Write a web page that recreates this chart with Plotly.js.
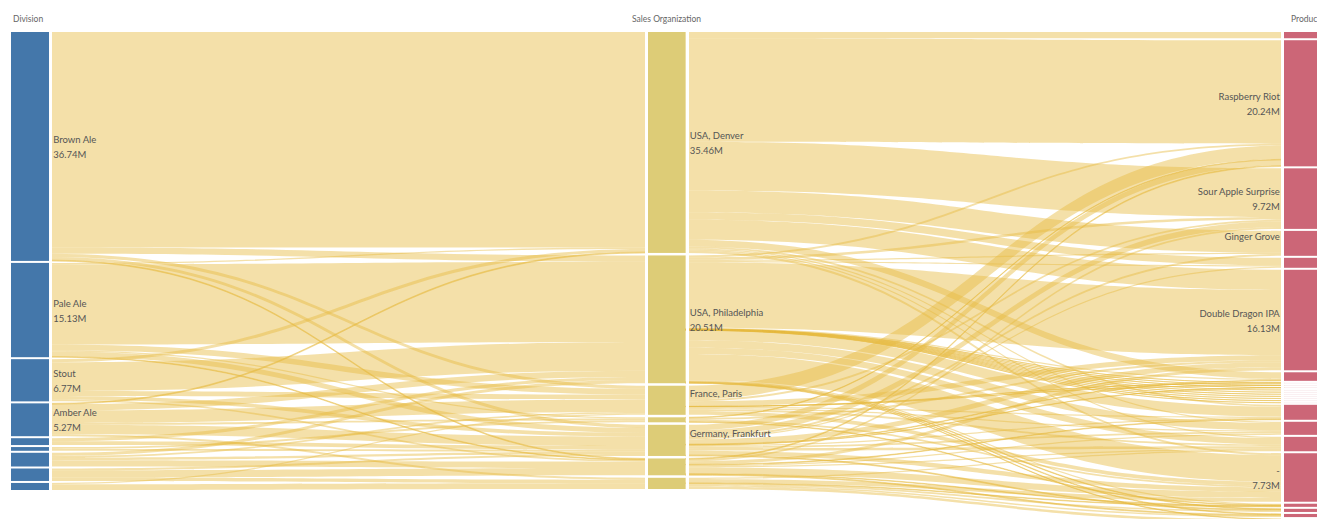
<!DOCTYPE html>
<html><head><meta charset="utf-8">
<script src="https://cdn.plot.ly/plotly-3.0.1.min.js"></script>
<style>html,body{margin:0;padding:0;overflow:hidden;background:#fff}#chart{width:1335px;height:523px}</style>
</head><body><div id="chart"></div>
<script>
// ---- column titles ----
const columnTitles = ["Division", "Sales Organization", "Product"];

// ---- nodes (empty name = unlabeled small node) ----
const divisionNames  = ["Brown Ale", "Pale Ale", "Stout", "Amber Ale", "", "", "", "", ""];
const divisionTotals = ["36.74M", "15.13M", "6.77M", "5.27M", "", "", "", "", ""];

const orgNames  = ["USA, Denver", "USA, Philadelphia", "France, Paris", "", "Germany, Frankfurt", "", ""];
const orgTotals = ["35.46M", "20.51M", "", "", "", "", ""];

const productNames  = ["", "Raspberry Riot", "Sour Apple Surprise", "Ginger Grove", "", "Double Dragon IPA", "",
                       "", "", "", "", "", "", "", "", "", "",
                       "", "", "", "-", "", "", "", ""];
const productTotals = ["", "20.24M", "9.72M", "", "", "16.13M", "",
                       "", "", "", "", "", "", "", "", "", "",
                       "", "", "", "7.73M", "", "", "", ""];

// ---- flows (millions) : rows = division, cols = sales organization ----
const divisionToOrg = [
  [34.6, 1.0, 0.5, 0, 0.5, 0.14, 0],
  [0.21, 12.9, 0.9, 0.2, 0.8, 0.12, 0],
  [0.5, 4.6, 0.8, 0, 0.6, 0.27, 0],
  [0.15, 1.0, 2.0, 0.3, 1.5, 0, 0.32],
  [0, 0.5, 0, 0, 0.6, 0, 0],
  [0, 0, 0, 0.3, 0.3, 0, 0],
  [0, 0.51, 0.27, 0, 0.4, 1.02, 0],
  [0, 0, 0, 0, 0.3, 1.15, 0.55],
  [0, 0, 0.2, 0, 0, 0, 0.93]
];
// rows = sales organization, cols = product
const orgToProduct = [
  [1.0, 16.6, 7.82, 3.5, 1.2, 3.23, 1.07, 0, 0, 0, 0, 0, 0, 0, 0, 0, 0, 0.3, 0.2, 0.2, 0.34, 0, 0, 0, 0],
  [0, 0.3, 0.4, 0.2, 0.2, 10.5, 0.2, 0.02, 0.02, 0.02, 0.02, 0.02, 0.02, 0.02, 0.02, 0.02, 0.02, 1.6, 1.2, 1.0, 4.24, 0.2, 0.1, 0.1, 0.07],
  [0, 2.2, 0.3, 0, 0, 0.8, 0, 0.035, 0.035, 0, 0, 0, 0, 0, 0, 0, 0, 0.2, 0.2, 0.3, 0.6, 0, 0, 0, 0],
  [0, 0.1, 0, 0, 0, 0.3, 0, 0, 0, 0, 0, 0, 0, 0, 0, 0, 0, 0, 0, 0, 0.3, 0.1, 0, 0, 0],
  [0, 0.9, 0.9, 0.3, 0.2, 0.8, 0.1, 0, 0, 0.05, 0, 0, 0, 0, 0, 0, 0, 0.2, 0.3, 0.4, 0.7, 0, 0.15, 0, 0],
  [0, 0.14, 0.3, 0, 0, 0.5, 0, 0, 0, 0, 0, 0, 0, 0, 0, 0, 0, 0.1, 0.2, 0.2, 1.0, 0.1, 0, 0.16, 0],
  [0, 0, 0, 0, 0, 0, 0, 0, 0, 0, 0, 0, 0, 0, 0, 0, 0, 0, 0, 0.21, 0.6, 0.1, 0.25, 0.24, 0.4]
];

// ---- build sankey ----
const FIG_W = 1335, FIG_H = 523;
const M = {l: 11, r: 13, t: 32, b: 1};
const PW = FIG_W - M.l - M.r, PH = FIG_H - M.t - M.b;
const THICK = 38, PAD = 2;
const COL_GAP = [2, 2.5, 2];

const nD = divisionNames.length, nO = orgNames.length, nP = productNames.length;
const offO = nD, offP = nD + nO;
const src = [], tgt = [], val = [];
divisionToOrg.forEach((row, i) => row.forEach((v, j) => { if (v > 0) { src.push(i); tgt.push(offO + j); val.push(v); } }));
orgToProduct.forEach((row, i) => row.forEach((v, j) => { if (v > 0) { src.push(offO + i); tgt.push(offP + j); val.push(v); } }));

const N = nD + nO + nP;
const inS = new Array(N).fill(0), outS = new Array(N).fill(0);
for (let k = 0; k < val.length; k++) { outS[src[k]] += val[k]; inS[tgt[k]] += val[k]; }
const nodeVal = inS.map((v, i) => Math.max(v, outS[i]));
const cols = [[...Array(nD).keys()], [...Array(nO).keys()].map(i => i + offO), [...Array(nP).keys()].map(i => i + offP)];
const ky = Math.min(...cols.map(c => (PH - (c.length - 1) * PAD) / c.reduce((s, i) => s + nodeVal[i], 0)));
const nodeX = new Array(N), nodeY = new Array(N);
const colX = [THICK / 2 / PW, 0.5, 1 - THICK / 2 / PW];
cols.forEach((c, ci) => {
  let cur = 0;
  c.forEach(i => {
    const h = nodeVal[i] * ky;
    nodeX[i] = colX[ci];
    nodeY[i] = (cur + h / 2) / PH;
    cur += h + COL_GAP[ci];
  });
});

const SP = '<span style="font-size:9.5px">';
function lab(name, total, right) {
  if (!name) return "";
  const pre = right ? "" : "\u2009", post = right ? "\u2009" : "";
  return SP + pre + name + post + "</span><br>" + SP + pre + (total || " ") + post + "</span>";
}
const labels = [
  ...divisionNames.map((n, i) => lab(n, divisionTotals[i], false)),
  ...orgNames.map((n, i) => lab(n, orgTotals[i], false)),
  ...productNames.map((n, i) => lab(n, productTotals[i], true))
];
// hairline product nodes are drawn very faint, as in the reference
const colors = [
  ...divisionNames.map(() => "#4477AA"),
  ...orgNames.map(() => "#DDCC77"),
  ...productNames.map((n, i) => nodeVal[offP + i] * ky < 1 ? "rgba(204,102,119,0.2)" : "#CC6677")
];

const trace = {
  type: "sankey",
  arrangement: "fixed",
  domain: {x: [0, 1], y: [0, 1]},
  textfont: {family: "Lato, 'Open Sans', sans-serif", size: 11.5, color: "#555555", shadow: "none"},
  node: {
    label: labels, color: colors, x: nodeX, y: nodeY,
    thickness: THICK, pad: PAD,
    line: {width: 0, color: "#ffffff"},
    hoverinfo: "none"
  },
  link: {
    source: src, target: tgt, value: val,
    color: val.map(() => "rgba(230,186,64,0.45)"),
    hoverinfo: "none"
  }
};

// white separators between nodes and links
const px2x = p => (p - M.l) / PW;
const gaps = [[49, 52], [645, 648], [686, 689], [1281, 1284]];
const shapes = gaps.map(g => ({
  type: "rect", xref: "paper", yref: "paper", layer: "above",
  x0: px2x(g[0]), x1: px2x(g[1]), y0: -0.01, y1: 1.01,
  fillcolor: "#ffffff", line: {width: 0}
}));

const titleY = (FIG_H - M.b - 19) / PH;
const annFont = {family: "Lato, 'Open Sans', sans-serif", size: 8.5, color: "#666666"};
const annotations = [
  {text: columnTitles[0], x: 0, xanchor: "left"},
  {text: columnTitles[1], x: 0.5, xanchor: "center"},
  {text: columnTitles[2], x: 1, xanchor: "right"}
].map(a => Object.assign(a, {xref: "paper", yref: "paper", y: titleY, yanchor: "middle", showarrow: false, font: annFont}));

const layout = {
  width: FIG_W, height: FIG_H,
  margin: {l: M.l, r: M.r, t: M.t, b: M.b, pad: 0},
  paper_bgcolor: "#ffffff", plot_bgcolor: "#ffffff",
  font: {family: "Lato, 'Open Sans', sans-serif"},
  shapes: shapes, annotations: annotations,
  showlegend: false
};
Plotly.newPlot("chart", [trace], layout, {displayModeBar: false, staticPlot: true});
</script></body></html>
